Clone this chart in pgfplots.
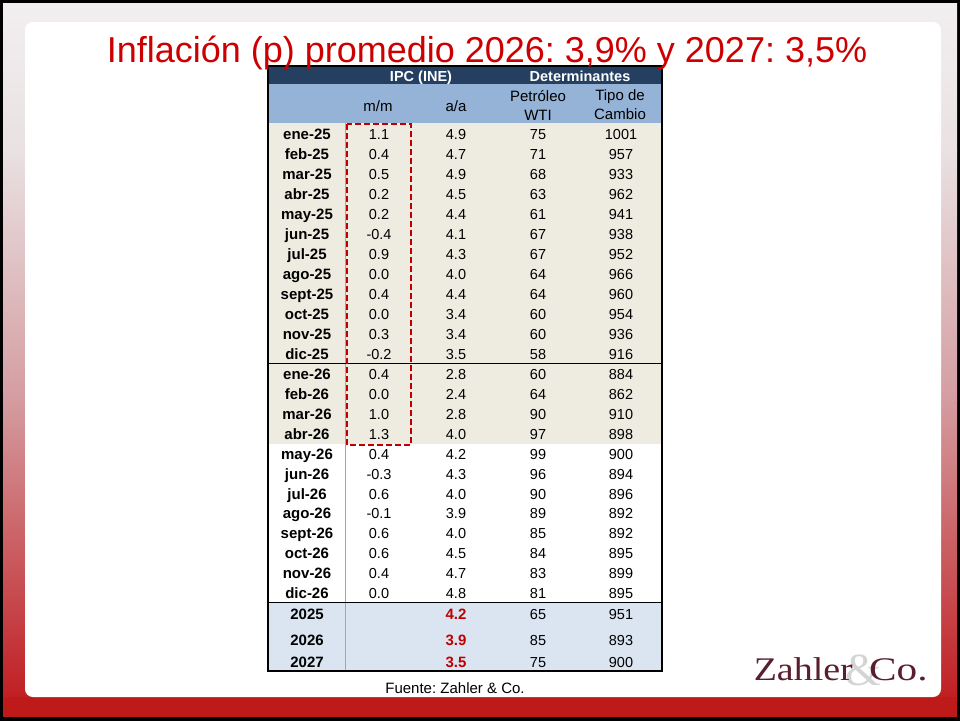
\documentclass[border=0pt]{standalone}
\usepackage{pgfplots}
\pgfplotsset{compat=1.18}
\usepackage{pgfplotstable}
\usepackage{graphicx}
\usepackage{fontspec}
\setmainfont{Liberation Sans}
\newfontfamily\logofont{Liberation Serif}
\frenchspacing
\definecolor{navy}{HTML}{243F60}
\definecolor{hblue}{HTML}{95B3D7}
\definecolor{beige}{HTML}{EEECE1}
\definecolor{sumblue}{HTML}{DBE5F1}
\definecolor{titlered}{HTML}{CC0000}
\definecolor{valred}{HTML}{C00000}
\definecolor{frame0}{HTML}{F2EFF0}
\definecolor{frame1}{HTML}{E9E1E2}
\definecolor{frame2}{HTML}{D49CA0}
\definecolor{frame3}{HTML}{C01E22}
\definecolor{bandred}{HTML}{BF1A1A}
\definecolor{logo}{HTML}{5A1F2E}
\definecolor{amp}{HTML}{D4D4D4}

\pgfplotstableread{
y lab mm aa wti tc
134 ene-25 1.1 4.9 75 1001
154 feb-25 0.4 4.7 71 957
174 mar-25 0.5 4.9 68 933
194 abr-25 0.2 4.5 63 962
214 may-25 0.2 4.4 61 941
234 jun-25 -0.4 4.1 67 938
254 jul-25 0.9 4.3 67 952
274 ago-25 0.0 4.0 64 966
294 sept-25 0.4 4.4 64 960
314 oct-25 0.0 3.4 60 954
334 nov-25 0.3 3.4 60 936
354 dic-25 -0.2 3.5 58 916
374 ene-26 0.4 2.8 60 884
394 feb-26 0.0 2.4 64 862
414 mar-26 1.0 2.8 90 910
434 abr-26 1.3 4.0 97 898
454 may-26 0.4 4.2 99 900
474 jun-26 -0.3 4.3 96 894
494 jul-26 0.6 4.0 90 896
513 ago-26 -0.1 3.9 89 892
533 sept-26 0.6 4.0 85 892
553 oct-26 0.6 4.5 84 895
573 nov-26 0.4 4.7 83 899
593 dic-26 0.0 4.8 81 895
}\monthly
\pgfplotstableread{
y lab aa wti tc
614 2025 4.2 65 951
640 2026 3.9 85 893
662 2027 3.5 75 900
}\annual

\begin{document}
\begin{tikzpicture}
\begin{axis}[
  scale only axis, width=960pt, height=721pt,
  xmin=0, xmax=960, ymin=0, ymax=721, y dir=reverse,
  hide axis, clip=false,
  cell/.style={draw=none, mark=none, nodes near coords, point meta=explicit symbolic,
    every node near coord/.append style={anchor=base, yshift=-5pt, inner sep=0pt,
      text=black, font=\fontsize{14.5}{16}\selectfont}},
]
% frame
\fill[black] (axis cs:0,0) rectangle (axis cs:960,721);
\shade[top color=frame0, bottom color=frame1] (axis cs:3,3) rectangle (axis cs:957,150.5);
\shade[top color=frame1, bottom color=frame2] (axis cs:3,150) rectangle (axis cs:957,400.5);
\shade[top color=frame2, bottom color=frame3] (axis cs:3,400) rectangle (axis cs:957,700);
\fill[bandred] (axis cs:3,697) rectangle (axis cs:957,717);
\fill[white, rounded corners=8pt] (axis cs:25,22) rectangle (axis cs:941,697);

% table backgrounds
\fill[navy] (axis cs:268,66) rectangle (axis cs:662,84);
\fill[hblue] (axis cs:268,84) rectangle (axis cs:662,123);
\fill[beige] (axis cs:268,123) rectangle (axis cs:662,444);
\fill[sumblue] (axis cs:268,602) rectangle (axis cs:662,671);
\draw[gray!70, line width=1pt] (axis cs:345,123) -- (axis cs:345,671);
\draw[black, line width=1pt] (axis cs:268,363) -- (axis cs:662,363);
\draw[black, line width=1pt] (axis cs:268,602) -- (axis cs:662,602);
\draw[black, line width=1.2pt] (axis cs:268,66) rectangle (axis cs:662,671);
\draw[valred, line width=1.6pt, dash pattern=on 6pt off 3pt] (axis cs:347,124) rectangle (axis cs:411,445);

% headers
\node[anchor=base, text=white, font=\bfseries\fontsize{14.5}{16}\selectfont] at (axis cs:421,81) {IPC (INE)};
\node[anchor=base, text=white, font=\bfseries\fontsize{14.5}{16}\selectfont] at (axis cs:580,81) {Determinantes};
\node[font=\fontsize{15}{19}\selectfont] at (axis cs:378,106) {m/m};
\node[font=\fontsize{15}{19}\selectfont] at (axis cs:456,106) {a/a};
\node[font=\fontsize{15}{19}\selectfont, align=center] at (axis cs:538,105) {Petróleo\\WTI};
\node[font=\fontsize{15}{19}\selectfont, align=center] at (axis cs:620,105) {Tipo de\\Cambio};

% monthly rows
\addplot[cell, every node near coord/.append style={font=\bfseries\fontsize{15}{17}\selectfont}]
  table[x expr=307, y=y, meta=lab]{\monthly};
\addplot[cell] table[x expr=379, y=y, meta=mm]{\monthly};
\addplot[cell] table[x expr=456, y=y, meta=aa]{\monthly};
\addplot[cell] table[x expr=538, y=y, meta=wti]{\monthly};
\addplot[cell] table[x expr=621, y=y, meta=tc]{\monthly};
% annual rows
\addplot[cell, every node near coord/.append style={font=\bfseries\fontsize{15}{17}\selectfont}]
  table[x expr=307, y=y, meta=lab]{\annual};
\addplot[cell, every node near coord/.append style={text=valred, font=\bfseries\fontsize{15}{17}\selectfont}]
  table[x expr=456, y=y, meta=aa]{\annual};
\addplot[cell] table[x expr=538, y=y, meta=wti]{\annual};
\addplot[cell] table[x expr=621, y=y, meta=tc]{\annual};

% title
\node[text=titlered, font=\fontsize{36}{40}\selectfont, anchor=base] at (axis cs:487,62)
  {Inflación (p) promedio 2026: 3,9\% y 2027: 3,5\%};
% source
\node[anchor=base, font=\fontsize{15}{18}\selectfont] at (axis cs:455,693.5) {Fuente: Zahler \& Co.};
% logo
\node[anchor=base, text=amp, font=\logofont\fontsize{46}{46}\selectfont] at (axis cs:863,685) {\&};
\node[anchor=base east, text=logo, font=\logofont\fontsize{33}{33}\selectfont, inner sep=0pt] at (axis cs:853,680) {\scalebox{1.15}[1]{Zahler}};
\node[anchor=base west, text=logo, font=\logofont\fontsize{33}{33}\selectfont, inner sep=0pt] at (axis cs:869,680) {\scalebox{1.25}[1]{Co.}};
\end{axis}
\end{tikzpicture}
\end{document}
